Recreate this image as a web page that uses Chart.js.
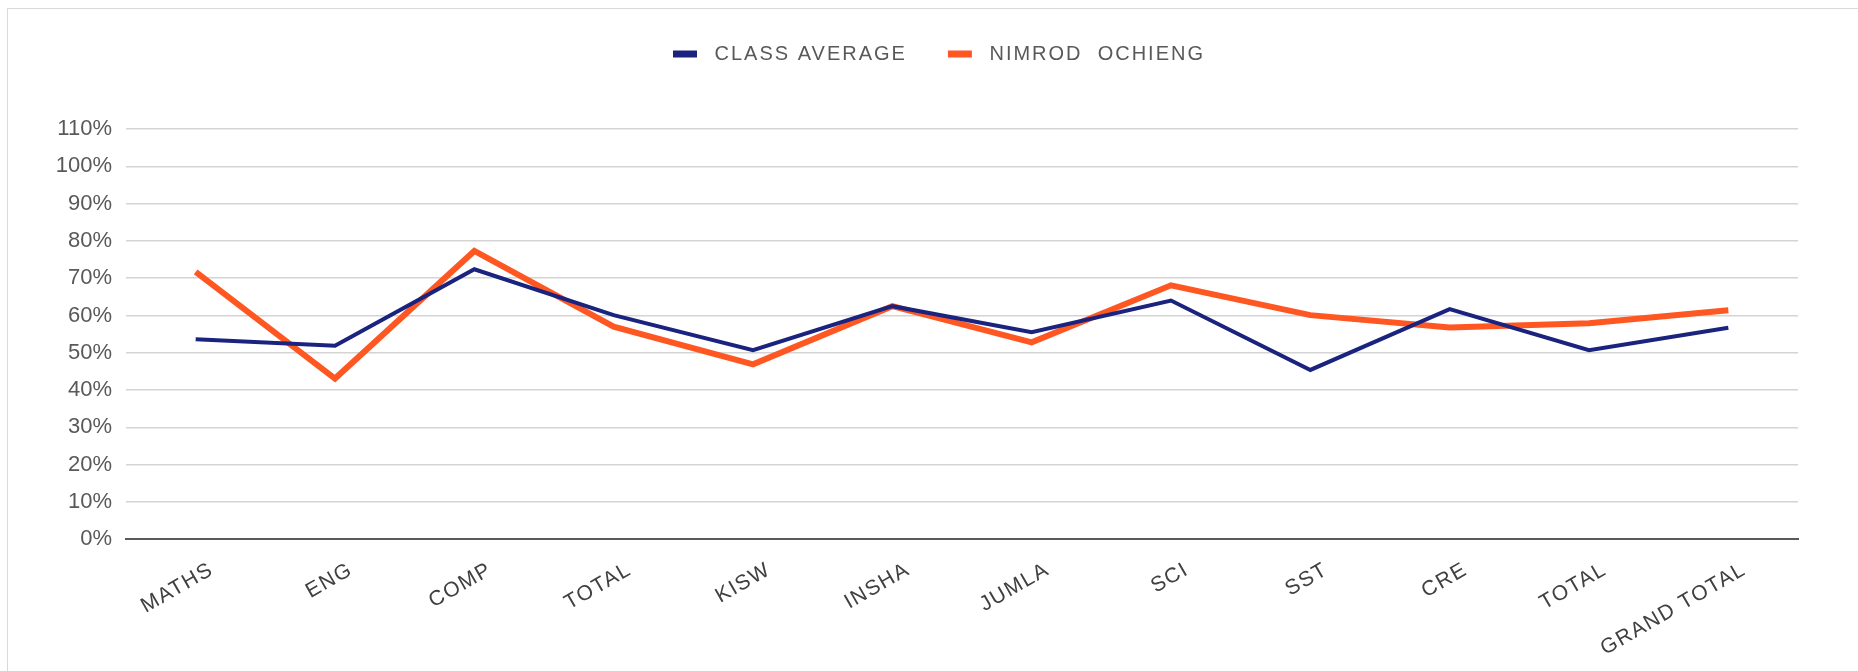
<!DOCTYPE html>
<html>
<head>
<meta charset="utf-8">
<script src="https://cdn.jsdelivr.net/npm/chart.js@4.4.1/dist/chart.umd.min.js"></script>
<style>
  html, body { margin: 0; padding: 0; background: #fff; overflow: hidden; }
  #frame { position: absolute; left: 7px; top: 8px; width: 1900px; height: 700px; border: 1px solid #d9d9d9; box-sizing: border-box; }
  #wrap { position: absolute; left: 0; top: 0; width: 1858px; height: 671px; }
</style>
</head>
<body>
<div id="frame"></div>
<div id="wrap"><canvas id="c" width="1858" height="671"></canvas></div>
<script>
const categories = ["MATHS", "ENG", "COMP", "TOTAL", "KISW", "INSHA", "JUMLA", "SCI", "SST", "CRE", "TOTAL", "GRAND TOTAL"];
const classAverage = [0.536, 0.519, 0.724, 0.601, 0.507, 0.625, 0.555, 0.640, 0.454, 0.617, 0.507, 0.567];
const nimrodOchieng = [0.717, 0.431, 0.773, 0.570, 0.469, 0.625, 0.528, 0.681, 0.601, 0.568, 0.579, 0.614];
const seriesNames = ["CLASS AVERAGE", "NIMROD  OCHIENG"];
const yTickMax = 1.1;
const yTickStep = 0.1;

const spacingPlugin = {
  id: 'spacingPlugin',
  beforeUpdate(chart) {
    const lg = chart.legend;
    if (lg && !lg._patched) {
      lg._patched = true;
      const origFit = lg.fit.bind(lg);
      const origDraw = lg.draw.bind(lg);
      lg.fit = function () {
        const ctx = chart.ctx;
        ctx.save(); ctx.letterSpacing = '2px';
        origFit();
        ctx.restore();
        this.height = 126;
        this.minSize && (this.minSize.height = 126);
      };
      lg.draw = function () {
        const ctx = chart.ctx;
        const l = this.left, r = this.right;
        this.left = l + 40; this.right = r + 40;
        ctx.save(); ctx.letterSpacing = '2px';
        origDraw();
        ctx.restore();
        this.left = l; this.right = r;
      };
    }
  },
  beforeDraw(chart) {
    const xs = chart.scales.x;
    if (xs && !xs._patched) {
      xs._patched = true;
      const origDraw = xs.drawLabels.bind(xs);
      xs.drawLabels = function (area) {
        const ctx = chart.ctx;
        ctx.save(); ctx.letterSpacing = '1.5px';
        origDraw(area);
        ctx.restore();
      };
    }
  }
};

new Chart(document.getElementById('c'), {
  type: 'line',
  data: {
    labels: categories,
    datasets: [
      {
        label: seriesNames[0],
        data: classAverage,
        borderColor: '#1A237E',
        backgroundColor: '#1A237E',
        borderWidth: 4,
        pointRadius: 0,
        tension: 0,
        borderJoinStyle: 'miter'
      },
      {
        label: seriesNames[1],
        data: nimrodOchieng,
        borderColor: '#FF5722',
        backgroundColor: '#FF5722',
        borderWidth: 6,
        pointRadius: 0,
        tension: 0,
        borderJoinStyle: 'miter'
      }
    ]
  },
  options: {
    responsive: false,
    animation: false,
    devicePixelRatio: 1,
    layout: { padding: { top: 3, left: 0, right: 60, bottom: 0 } },
    plugins: {
      tooltip: { enabled: false },
      legend: {
        position: 'top',
        align: 'center',
        labels: {
          boxWidth: 24,
          boxHeight: 7,
          padding: 41,
          color: '#595959',
          font: { family: 'Liberation Sans, Arial, sans-serif', size: 20 },
          generateLabels(chart) {
            return chart.data.datasets.map((ds, i) => ({
              text: ' ' + ds.label,
              fillStyle: ds.borderColor,
              strokeStyle: ds.borderColor,
              lineWidth: 0,
              fontColor: '#595959',
              datasetIndex: i,
              hidden: false
            }));
          }
        }
      }
    },
    scales: {
      x: {
        offset: true,
        grid: { display: false, drawTicks: false },
        border: { display: true, color: '#595959', width: 2 },
        ticks: {
          autoSkip: false,
          minRotation: 30,
          maxRotation: 30,
          padding: 18,
          labelOffset: 16,
          color: '#404040',
          font: { family: 'Liberation Sans, Arial, sans-serif', size: 21 }
        },
        afterFit(scale) { scale.height = 671 - 539.3; }
      },
      y: {
        min: 0,
        max: yTickMax,
        grid: {
          color: (c) => c.index === 0 ? 'rgba(0,0,0,0)' : '#d4d4d4',
          lineWidth: 1.5,
          drawTicks: false
        },
        border: { display: false },
        ticks: {
          stepSize: yTickStep,
          padding: 14,
          color: '#595959',
          font: { family: 'Liberation Sans, Arial, sans-serif', size: 22 },
          callback: (v) => Math.round(v * 100) + '%'
        },
        afterFit(scale) { scale.width = 126; }
      }
    }
  },
  plugins: [spacingPlugin]
});
</script>
</body>
</html>
